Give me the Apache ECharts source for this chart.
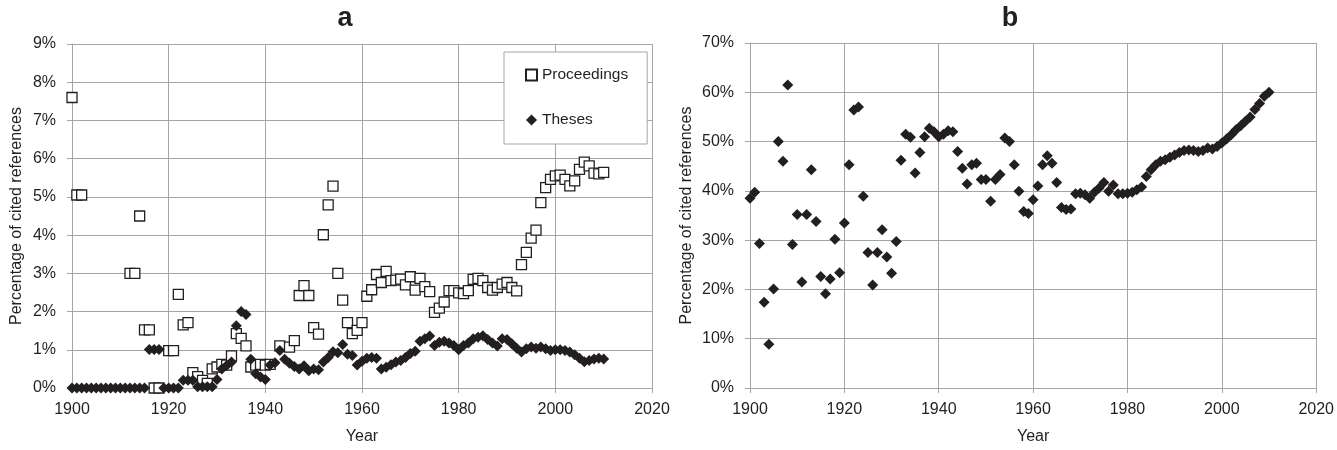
<!DOCTYPE html>
<html>
<head>
<meta charset="utf-8">
<script src="https://cdn.jsdelivr.net/npm/echarts@6/dist/echarts.min.js"></script>
<style>
  html, body { margin: 0; padding: 0; background: #fff; }
  #chart { width: 1337px; height: 450px; }
</style>
</head>
<body>
<div id="chart"></div>
<script>
  // panel a: proceedings (not every year has a value)
  const procYears = [
    1900, 1901, 1902, 1912, 1913, 1914, 1915, 1916, 1917, 1918,
    1920, 1921, 1922, 1923, 1924, 1925, 1926, 1927, 1928, 1929,
    1930, 1931, 1932, 1933, 1934, 1935, 1936, 1937, 1938, 1939,
    1940, 1941, 1943, 1945, 1946, 1947, 1948, 1949, 1950, 1951,
    1952, 1953, 1954, 1955, 1956, 1957, 1958, 1959, 1960, 1961,
    1962, 1963, 1964, 1965, 1966, 1967, 1968, 1969, 1970, 1971,
    1972, 1973, 1974, 1975, 1976, 1977, 1978, 1979, 1980, 1981,
    1982, 1983, 1984, 1985, 1986, 1987, 1988, 1989, 1990, 1991,
    1992, 1993, 1994, 1995, 1996, 1997, 1998, 1999, 2000, 2001,
    2002, 2003, 2004, 2005, 2006, 2007, 2008, 2009, 2010
  ]
  const procVals = [
    7.6, 5.05, 5.05, 3.0, 3.0, 4.5, 1.52, 1.52, 0, 0,
    0.98, 0.98, 2.45, 1.65, 1.71, 0.4, 0.3, 0.2, 0.12, 0.5,
    0.55, 0.62, 0.6, 0.84, 1.42, 1.3, 1.1, 0.55, 0.6, 0.62,
    0.6, 0.62, 1.1, 1.07, 1.24, 2.42, 2.68, 2.42, 1.58, 1.41,
    4.01, 4.79, 5.28, 3.0, 2.3, 1.71, 1.42, 1.51, 1.71, 2.4,
    2.57, 2.97, 2.76, 3.05, 2.81, 2.82, 2.85, 2.7, 2.91, 2.56,
    2.87, 2.65, 2.52, 1.98, 2.09, 2.25, 2.55, 2.55, 2.49, 2.47,
    2.55, 2.84, 2.87, 2.81, 2.63, 2.56, 2.63, 2.72, 2.76, 2.63,
    2.54, 3.23, 3.55, 3.92, 4.13, 4.85, 5.24, 5.46, 5.55, 5.57,
    5.46, 5.29, 5.42, 5.72, 5.91, 5.81, 5.62, 5.6, 5.64
  ]

  // panel a: theses, one value per year from 1900 to 2010
  const thesesA = [
    0, 0, 0, 0, 0, 0, 0, 0, 0, 0,                          // 1900s
    0, 0, 0, 0, 0, 0, 1.01, 1.01, 1.01, 0,                 // 1910s
    0, 0, 0, 0.2, 0.2, 0.2, 0.03, 0.03, 0.03, 0.03,        // 1920s
    0.22, 0.5, 0.59, 0.68, 1.63, 2.0, 1.92, 0.75, 0.37, 0.29, // 1930s
    0.22, 0.6, 0.66, 0.98, 0.75, 0.65, 0.56, 0.5, 0.58, 0.45, // 1940s
    0.5, 0.48, 0.68, 0.8, 0.95, 0.92, 1.14, 0.88, 0.85, 0.6,  // 1950s
    0.7, 0.78, 0.8, 0.78, 0.5, 0.54, 0.61, 0.68, 0.72, 0.8,   // 1960s
    0.9, 0.96, 1.22, 1.29, 1.36, 1.11, 1.2, 1.22, 1.18, 1.11, // 1970s
    1.0, 1.11, 1.18, 1.29, 1.33, 1.37, 1.27, 1.18, 1.1, 1.29, // 1980s
    1.27, 1.16, 1.04, 0.94, 1.03, 1.07, 1.04, 1.07, 1.03, 0.98, // 1990s
    1.0, 1.0, 0.98, 0.94, 0.87, 0.78, 0.69, 0.72, 0.76, 0.78, // 2000s
    0.76                                                    // 2010
  ]

  // panel b: theses, one value per year from 1900 to 2010
  const thesesB = [
    38.5, 39.7, 29.3, 17.4, 8.9, 20.1, 50.0, 46.0, 61.5, 29.1,
    35.2, 21.5, 35.2, 44.3, 33.8, 22.6, 19.1, 22.1, 30.2, 23.4,
    33.5, 45.3, 56.4, 57.0, 38.9, 27.5, 20.9, 27.5, 32.1, 26.6,
    23.3, 29.7, 46.2, 51.5, 50.9, 43.6, 47.8, 51.0, 52.7, 52.0,
    51.0, 51.5, 52.2, 52.0, 48.0, 44.6, 41.4, 45.3, 45.6, 42.3,
    42.3, 37.9, 42.3, 43.3, 50.7, 50.0, 45.3, 39.9, 35.8, 35.4,
    38.2, 41.0, 45.3, 47.1, 45.6, 41.7, 36.6, 36.2, 36.3, 39.4,
    39.5, 39.2, 38.5, 39.7, 40.6, 41.7, 39.9, 41.2, 39.4, 39.4,
    39.5, 39.7, 40.2, 40.8, 42.9, 44.3, 45.3, 46.0, 46.3, 46.8,
    47.3, 47.8, 48.2, 48.3, 48.2, 48.0, 48.2, 48.7, 48.5, 49.0,
    49.7, 50.5, 51.4, 52.4, 53.2, 54.1, 55.0, 56.5, 57.7, 59.2,
    60.0
  ]
  const firstYear = 1900

  const ink = '#231f20'
  const gridGray = '#a3a6a8'
  const font = 'Liberation Sans, Arial, sans-serif'

  const procData = procYears.map((y, i) => [y, procVals[i]])
  const thesesAData = thesesA.map((v, i) => [firstYear + i, v])
  const thesesBData = thesesB.map((v, i) => [firstYear + i, v])

  const xAxisBase = (gridIndex) => ({
    type: 'value',
    gridIndex: gridIndex,
    min: 1900,
    max: 2020,
    interval: 20,
    name: 'Year',
    nameLocation: 'middle',
    nameGap: 41,
    nameTextStyle: { color: ink, fontSize: 16, fontFamily: font },
    axisLine: { show: true, lineStyle: { color: gridGray } },
    axisTick: { show: true, length: 5, lineStyle: { color: gridGray } },
    axisLabel: { color: ink, fontSize: 16, fontFamily: font, margin: 14,
      formatter: (v) => String(v) },
    splitLine: { show: true, lineStyle: { color: gridGray, width: 1 } }
  })

  const yAxisBase = (gridIndex, max, interval, gap) => ({
    type: 'value',
    gridIndex: gridIndex,
    min: 0,
    max: max,
    interval: interval,
    name: 'Percentage of cited references',
    nameLocation: 'middle',
    nameGap: gap,
    nameTextStyle: { color: ink, fontSize: 16, fontFamily: font },
    axisLine: { show: true, lineStyle: { color: gridGray } },
    axisTick: { show: true, length: 5, lineStyle: { color: gridGray } },
    axisLabel: { color: ink, fontSize: 16, fontFamily: font, margin: 16, formatter: '{value}%' },
    splitLine: { show: true, lineStyle: { color: gridGray, width: 1 } }
  })

  const chart = echarts.init(document.getElementById('chart'), null, { renderer: 'canvas' })
  chart.setOption({
    animation: false,
    backgroundColor: '#fff',
    title: [
      { text: 'a', left: 340, top: 0, textAlign: 'center',
        textStyle: { fontSize: 27, fontWeight: 'bold', color: ink, fontFamily: font } },
      { text: 'b', left: 1005, top: 0, textAlign: 'center',
        textStyle: { fontSize: 27, fontWeight: 'bold', color: ink, fontFamily: font } }
    ],
    legend: {
      data: ['Proceedings', 'Theses'],
      orient: 'vertical',
      left: 504,
      top: 52,
      padding: [15, 19, 16, 21],
      itemGap: 29,
      itemWidth: 11,
      itemHeight: 11,
      backgroundColor: '#fff',
      borderColor: gridGray,
      borderWidth: 1,
      textStyle: { color: ink, fontSize: 15.5, fontFamily: font }
    },
    grid: [
      { left: 72, top: 44, width: 580, height: 345 },
      { left: 750, top: 43, width: 567, height: 345 }
    ],
    xAxis: [xAxisBase(0), xAxisBase(1)],
    yAxis: [yAxisBase(0, 9, 1, 47), yAxisBase(1, 70, 10, 55)],
    series: [
      {
        name: 'Proceedings',
        type: 'scatter',
        xAxisIndex: 0,
        yAxisIndex: 0,
        symbol: 'rect',
        symbolSize: 10,
        itemStyle: { color: '#fff', borderColor: ink, borderWidth: 1.3, opacity: 1 },
        data: procData,
        z: 2
      },
      {
        name: 'Theses',
        type: 'scatter',
        xAxisIndex: 0,
        yAxisIndex: 0,
        symbol: 'diamond',
        symbolSize: 11,
        itemStyle: { color: ink, opacity: 1 },
        data: thesesAData,
        z: 3
      },
      {
        name: 'Theses b',
        type: 'scatter',
        xAxisIndex: 1,
        yAxisIndex: 1,
        symbol: 'diamond',
        symbolSize: 11,
        itemStyle: { color: ink, opacity: 1 },
        data: thesesBData,
        z: 3
      }
    ]
  })
</script>
</body>
</html>
